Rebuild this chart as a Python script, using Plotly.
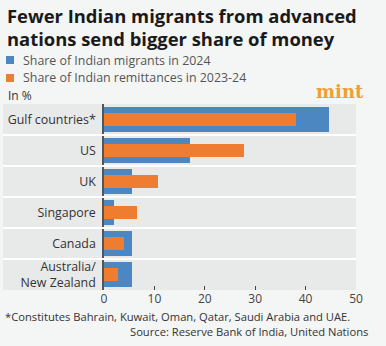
import plotly.graph_objects as go

categories = ["Gulf countries*", "US", "UK", "Singapore", "Canada", "Australia/<br>New Zealand"]
migrants_2024 = [44.7, 17.1, 5.6, 2.0, 5.5, 5.6]
remittances_2023_24 = [38.0, 27.7, 10.8, 6.6, 4.0, 2.8]
tick_vals = [0, 10, 20, 30, 40, 50]
series_names = ["Share of Indian migrants in 2024", "Share of Indian remittances in 2023-24"]

BLUE = "#4d87c2"
ORANGE = "#ee7d31"
PAGE = "#f4f5f5"
BAND = "#e8e9e9"
FONT = "Open Sans"

fig = go.Figure()
fig.add_trace(go.Bar(y=categories, x=migrants_2024, orientation="h", width=0.8,
                     marker=dict(color=BLUE, line=dict(width=0)), name=series_names[0],
                     showlegend=False))
fig.add_trace(go.Bar(y=categories, x=remittances_2023_24, orientation="h", width=0.42,
                     marker=dict(color=ORANGE, line=dict(width=0)), name=series_names[1],
                     showlegend=False))

L, R, T, B = 104, 30, 104, 56
W, H = 386, 346
pw = W - L - R
ph = H - T - B
xl = (3 - L) / pw

shapes = [dict(type="rect", xref="paper", yref="paper", x0=xl, x1=0, y0=0, y1=1,
               fillcolor=BAND, line=dict(width=0), layer="below")]
for i in range(len(categories) - 1):
    shapes.append(dict(type="line", xref="paper", yref="y", x0=xl, x1=1,
                       y0=i + 0.5, y1=i + 0.5, line=dict(color="white", width=2), layer="above"))
# legend squares
shapes.append(dict(type="rect", xref="paper", yref="paper", x0=(6 - L) / pw, x1=(14 - L) / pw,
                   y0=(H - B - 64) / ph, y1=(H - B - 56) / ph,
                   fillcolor=BLUE, line=dict(width=0)))
shapes.append(dict(type="rect", xref="paper", yref="paper", x0=(6 - L) / pw, x1=(14 - L) / pw,
                   y0=(H - B - 82) / ph, y1=(H - B - 74) / ph,
                   fillcolor=ORANGE, line=dict(width=0)))

def px_ann(x, y, text, size, color, xanchor="left", family=FONT, **kw):
    return dict(xref="paper", yref="paper", x=(x - L) / pw, y=(H - B - y) / ph,
                text=text, showarrow=False, xanchor=xanchor, yanchor="middle",
                font=dict(size=size, color=color, family=family), **kw)

annotations = [
    px_ann(5, 15, "<b>Fewer Indian migrants from advanced</b>", 18.4, "#1a1a1a"),
    px_ann(5, 38, "<b>nations send bigger share of money</b>", 18.4, "#1a1a1a"),
    px_ann(21, 60, series_names[0], 12.4, "#555555"),
    px_ann(21, 78, series_names[1], 12.4, "#555555"),
    px_ann(6, 95, "In %", 12, "#333333"),
    px_ann(366, 91, "<b>mint</b>", 18, "#f0a030", xanchor="right", family="DejaVu Serif"),
    px_ann(3, 316, "*Constitutes Bahrain, Kuwait, Oman, Qatar, Saudi Arabia and UAE.", 11.2, "#333333"),
    px_ann(370, 331, "Source: Reserve Bank of India, United Nations", 11.2, "#333333", xanchor="right"),
]

fig.update_layout(
    width=W, height=H,
    margin=dict(l=L, r=R, t=T, b=B, pad=0, autoexpand=False),
    paper_bgcolor=PAGE, plot_bgcolor=BAND,
    barmode="overlay", bargap=0,
    font=dict(family=FONT, size=12, color="#333333"),
    shapes=shapes, annotations=annotations,
    xaxis=dict(range=[0, 50], tickvals=tick_vals, showgrid=False, zeroline=False,
               ticks="inside", ticklen=4, tickcolor="#444444", tickwidth=1.3,
               tickfont=dict(size=12, color="#444444"), showline=False, fixedrange=True,
               automargin=False),
    yaxis=dict(categoryorder="array", categoryarray=categories, autorange="reversed",
               showline=True, linecolor="#555555", linewidth=1.5, showgrid=False,
               ticks="", ticklabelstandoff=4, automargin=False,
               tickfont=dict(size=12.4, color="#333333"), fixedrange=True),
)

fig.write_html("out.html")
